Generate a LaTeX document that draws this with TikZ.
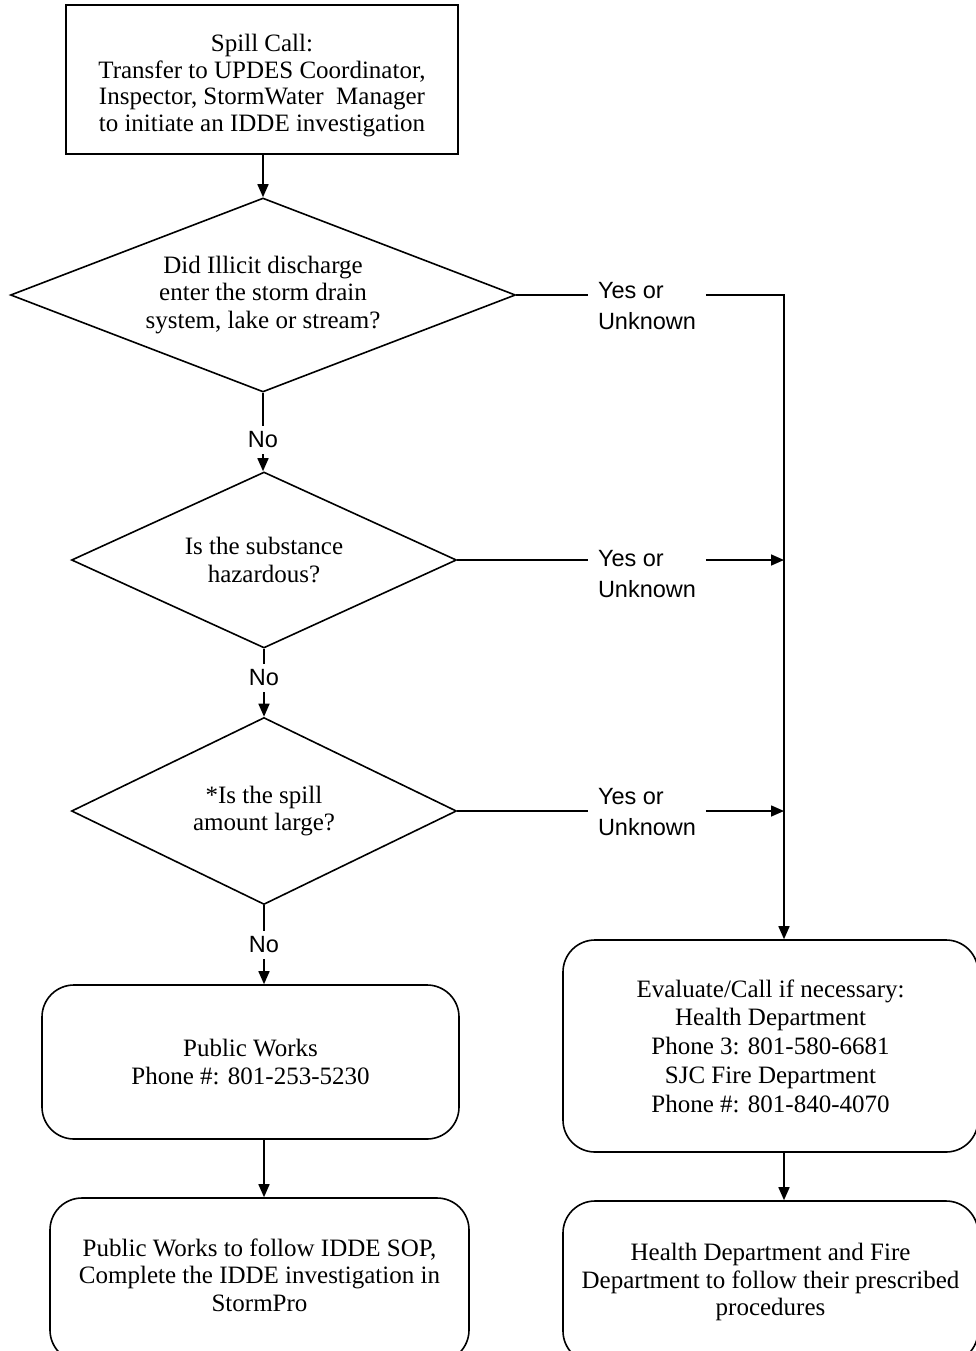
\documentclass[tikz,border=0pt]{standalone}
\usepackage{fontspec}
\setmainfont{Liberation Serif}
\newfontfamily\arial{Liberation Sans}
\usetikzlibrary{shapes.geometric,arrows.meta}

\tikzset{
  every picture/.style={line width=1.6pt},
  txt/.style={font=\fontsize{25}{27.5}\selectfont, align=center},
  plainbox/.style={txt, draw, rectangle, inner sep=0pt},
  roundbox/.style={txt, draw, rectangle, rounded corners=32pt, inner sep=0pt},
  decision/.style={txt, draw, diamond, inner sep=0pt},
  answer/.style={font=\arial\fontsize{23.5}{31}\selectfont, align=left, inner xsep=9pt, inner ysep=2pt},
  nolabel/.style={font=\arial\fontsize{23.5}{28}\selectfont, fill=white, inner xsep=2pt, inner ysep=6pt},
  flow/.style={-{Triangle[length=13pt,width=11pt]}},
}

\begin{document}
\begin{tikzpicture}[x=1pt,y=-1pt]
\useasboundingbox (0,0) rectangle (976,1351);
\clip (0,0) rectangle (976,1351);

% starting box, its text set a little below the middle
\node[plainbox, minimum width=392pt, minimum height=149pt,
      label={[txt, font=\fontsize{25}{26.5}\selectfont, yshift=-6pt]center:{Spill Call:\\Transfer to UPDES Coordinator,\\Inspector,\ StormWater\ \ Manager\\to initiate an IDDE investigation}}]
  (call) at (262,79.5) {};

% decisions
\node[decision, aspect=2.6, minimum width=505pt, minimum height=194pt] (d1) at (263,295)
  {Did Illicit discharge\\enter the storm drain\\system, lake or stream?};
\node[decision, aspect=2.19, minimum width=385pt, minimum height=176pt] (d2) at (264,560)
  {Is the substance\\hazardous?};
\node[decision, aspect=2.06, minimum width=385pt, minimum height=187pt] (d3) at (264,811)
  {*Is the spill\\amount large?};

% left column boxes
\node[roundbox, minimum width=417pt, minimum height=154pt] (pw) at (250.5,1062)
  {Public Works\\Phone \#: 801-253-5230};
\node[roundbox, minimum width=419pt, minimum height=164pt,
      label={[txt, yshift=5pt]center:{Public Works to follow IDDE SOP,\\Complete the IDDE investigation in\\StormPro}}]
  (pwsop) at (259.5,1280) {};

% right column boxes
\node[roundbox, minimum width=415pt, minimum height=212pt,
      font=\fontsize{25}{28.7}\selectfont] (eval) at (770.5,1046)
  {Evaluate/Call if necessary:\\Health Department\\Phone 3: 801-580-6681\\SJC Fire Department\\Phone \#: 801-840-4070};
\node[roundbox, minimum width=415pt, minimum height=162pt] (proc) at (770.5,1282)
  {Health Department and Fire\\Department to follow their prescribed\\procedures};

% answer labels
\node[answer] (y1) at (647,306.5) {Yes or\\Unknown};
\node[answer] (y2) at (647,574.5) {Yes or\\Unknown};
\node[answer] (y3) at (647,812.5) {Yes or\\Unknown};

% trunk corner on the right
\coordinate (trunk) at (784,295);

% main flow
\draw[flow] (call.south -| d1.north) -- (d1.north);
\draw[flow] (d1.south) -- node[nolabel, pos=0.6] {No} (d1.south |- d2.north);
\draw[flow] (d2.south) -- node[nolabel, pos=0.43] {No} (d2.south |- d3.north);
\draw[flow] (d3.south) -- node[nolabel, pos=0.5] {No} (d3.south |- pw.north);
\draw[flow] (pw.south -| d3.south) -- (d3.south |- pwsop.north);

% yes branches
\draw (d1.east) -- (d1.east -| y1.west);
\draw[flow] (y1.east |- d1.east) -- (trunk) -- (trunk |- eval.north);
\draw (d2.east) -- (d2.east -| y2.west);
\draw[flow] (y2.east |- d2.east) -- (d2.east -| trunk);
\draw (d3.east) -- (d3.east -| y3.west);
\draw[flow] (y3.east |- d3.east) -- (d3.east -| trunk);

\draw[flow] (eval.south -| trunk) -- (trunk |- proc.north);
\end{tikzpicture}
\end{document}
